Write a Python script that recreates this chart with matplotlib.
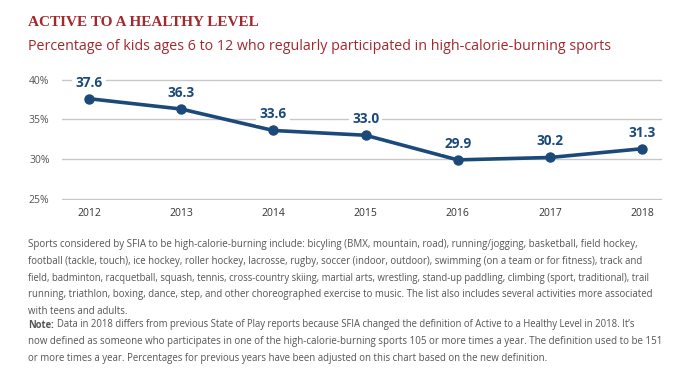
import matplotlib
matplotlib.use("Agg")
import matplotlib.pyplot as plt

years = ["2012", "2013", "2014", "2015", "2016", "2017", "2018"]
values = [37.6, 36.3, 33.6, 33.0, 29.9, 30.2, 31.3]
yticks = [25, 30, 35, 40]
ytick_labels = ["25%", "30%", "35%", "40%"]

title = "ACTIVE TO A HEALTHY LEVEL"
subtitle = "Percentage of kids ages 6 to 12 who regularly participated in high-calorie-burning sports"
foot_lines = [
    "Sports considered by SFIA to be high-calorie-burning include: bicyling (BMX, mountain, road), running/jogging, basketball, field hockey,",
    "football (tackle, touch), ice hockey, roller hockey, lacrosse, rugby, soccer (indoor, outdoor), swimming (on a team or for fitness), track and",
    "field, badminton, racquetball, squash, tennis, cross-country skiing, martial arts, wrestling, stand-up paddling, climbing (sport, traditional), trail",
    "running, triathlon, boxing, dance, step, and other choreographed exercise to music. The list also includes several activities more associated",
    "with teens and adults.",
]
note_lines = [
    "Data in 2018 differs from previous State of Play reports because SFIA changed the definition of Active to a Healthy Level in 2018. It\u2019s",
    "now defined as someone who participates in one of the high-calorie-burning sports 105 or more times a year. The definition used to be 151",
    "or more times a year. Percentages for previous years have been adjusted on this chart based on the new definition.",
]
# right edge (px) of each full footnote line in the reference, None = use mean size
foot_right = [639, 642, 660, 651, None]
note_right = [644, 668, None]

RED = "#a3282c"
BLUE = "#1b4a7a"
GRAY = "#555555"
FONT = "Open Sans"
BASE = 7.0

W, H = 690, 385
fig = plt.figure(figsize=(W / 100, H / 100), dpi=100)
fig.patch.set_facecolor("white")

ax = fig.add_axes([62 / W, 1 - 200 / H, 600 / W, 121 / H])
x = list(range(len(years)))
ax.plot(x, values, color=BLUE, lw=2.6, marker="o", ms=6.5, zorder=3, solid_capstyle="round")
for xi, v in zip(x, values):
    ax.annotate(f"{v:.1f}", (xi, v), xytext=(0, 6.5), textcoords="offset points",
                ha="center", va="bottom", color=BLUE, fontsize=9.8, fontweight="bold",
                family=FONT, zorder=4,
                bbox=dict(boxstyle="square,pad=0.25", fc="white", ec="none"))
ax.set_xlim(-0.293, 6.217)
ax.set_ylim(24.85, 40.08)
ax.set_yticks(yticks)
ax.set_yticklabels(ytick_labels, family=FONT, fontsize=7.5, color=GRAY)
ax.set_xticks(x)
ax.set_xticklabels(years, family=FONT, fontsize=7.5, color="#333333")
ax.tick_params(length=0)
ax.tick_params(axis="x", pad=6)
ax.tick_params(axis="y", pad=9)
ax.grid(axis="y", color="#c8c8c8", lw=1)
for s in ax.spines.values():
    s.set_visible(False)
ax.set_axisbelow(True)

fig.text(28 / W, 1 - 22 / H, title, family="Liberation Serif", fontweight="bold",
         fontsize=11, color=RED, va="center", ha="left")
fig.text(28 / W, 1 - 46 / H, subtitle, family=FONT, fontsize=10.3, color=RED,
         va="center", ha="left")

renderer = fig.canvas.get_renderer()


def fit_text(xpx, ypx, s, right, bold_prefix=None):
    start = xpx
    pre = None
    if bold_prefix:
        pre = fig.text(start / W, 1 - ypx / H, bold_prefix, family=FONT, fontsize=BASE,
                       color=GRAY, fontweight="bold", va="center", ha="left")
    t = fig.text(start / W, 1 - ypx / H, s, family=FONT, fontsize=BASE,
                 color=GRAY, va="center", ha="left")
    return pre, t, right


sizes = []
items = []
y0 = 245
for i, line in enumerate(foot_lines):
    items.append(fit_text(28, y0 + i * 16.5, line, foot_right[i]))
n0 = 325
for i, line in enumerate(note_lines):
    items.append(fit_text(28, n0 + i * 16.5, line, note_right[i],
                          bold_prefix="Note:" if i == 0 else None))

for pre, t, right in items:
    if right is None:
        continue
    prew = 0
    if pre is not None:
        prew = pre.get_window_extent(renderer).width + 3
    w = t.get_window_extent(renderer).width + prew
    fs = BASE * (right - 28) / w
    sizes.append(fs)
mean_fs = sum(sizes) / len(sizes)

k = 0
for pre, t, right in items:
    if right is None:
        fs = mean_fs
    else:
        fs = sizes[k]
        k += 1
    t.set_fontsize(fs)
    if pre is not None:
        pre.set_fontsize(fs)
        pw = pre.get_window_extent(renderer).width
        t.set_x((28 + pw + 3) / W)

fig.savefig("out.png", dpi=100, facecolor="white")
